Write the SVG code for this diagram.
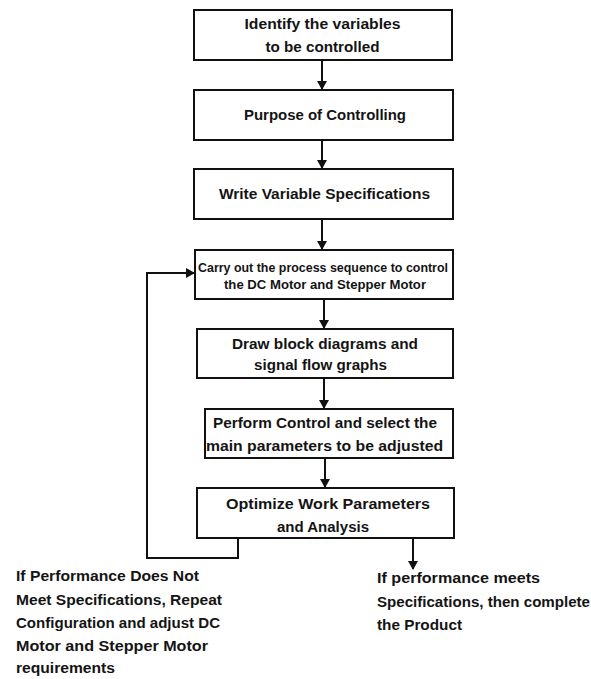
<svg xmlns="http://www.w3.org/2000/svg" width="591" height="679" viewBox="0 0 591 679">
<style>
.box{fill:#fff;stroke:#111;stroke-width:2}
.t{font-family:"Liberation Sans",Arial,sans-serif;font-weight:bold;font-size:14px;fill:#141414}
.c{text-anchor:middle}
.s{font-size:12.5px}
.ln{fill:none;stroke:#111;stroke-width:2}
</style>
<defs>
<marker id="ah" markerWidth="10" markerHeight="10" refX="8" refY="5" orient="auto" markerUnits="userSpaceOnUse">
<path d="M0,0 L9,5 L0,10 Z" fill="#111"/>
</marker>
</defs>
<rect width="591" height="679" fill="#fff"/>
<g id="n1"><rect class="box" x="194" y="10" width="258" height="50"/>
<text class="t c" x="322.5" y="29" textLength="156" lengthAdjust="spacingAndGlyphs">Identify the variables</text>
<text class="t c" x="322.5" y="52" textLength="114" lengthAdjust="spacingAndGlyphs">to be controlled</text></g>
<g id="n2"><rect class="box" x="194" y="90" width="259" height="50"/>
<text class="t c" x="325" y="120" textLength="162" lengthAdjust="spacingAndGlyphs">Purpose of Controlling</text></g>
<g id="n3"><rect class="box" x="194" y="169" width="259" height="50"/>
<text class="t c" x="324.5" y="199" textLength="211" lengthAdjust="spacingAndGlyphs">Write Variable Specifications</text></g>
<g id="n4"><rect class="box" x="195" y="250" width="258" height="49"/>
<text class="t s c" x="323" y="272" textLength="250" lengthAdjust="spacingAndGlyphs">Carry out the process sequence to control</text>
<text class="t s c" x="325" y="289" textLength="202" lengthAdjust="spacingAndGlyphs">the DC Motor and Stepper Motor</text></g>
<g id="n5"><rect class="box" x="197" y="329" width="256" height="49"/>
<text class="t c" x="325" y="349" textLength="186" lengthAdjust="spacingAndGlyphs">Draw block diagrams and</text>
<text class="t c" x="320.5" y="370" textLength="133" lengthAdjust="spacingAndGlyphs">signal flow graphs</text></g>
<g id="n6"><rect class="box" x="205" y="409" width="248" height="49"/>
<text class="t c" x="325" y="428" textLength="224" lengthAdjust="spacingAndGlyphs">Perform Control and select the</text>
<text class="t c" x="324.5" y="451" textLength="237" lengthAdjust="spacingAndGlyphs">main parameters to be adjusted</text></g>
<g id="n7"><rect class="box" x="197" y="488" width="257" height="50"/>
<text class="t c" x="328" y="509" textLength="204" lengthAdjust="spacingAndGlyphs">Optimize Work Parameters</text>
<text class="t c" x="323" y="532" textLength="92" lengthAdjust="spacingAndGlyphs">and Analysis</text></g>
<g id="n8">
<text class="t" x="16" y="581" textLength="183" lengthAdjust="spacingAndGlyphs">If Performance Does Not</text>
<text class="t" x="16" y="605" textLength="206" lengthAdjust="spacingAndGlyphs">Meet Specifications, Repeat</text>
<text class="t" x="16" y="628" textLength="204" lengthAdjust="spacingAndGlyphs">Configuration and adjust DC</text>
<text class="t" x="16" y="651" textLength="192" lengthAdjust="spacingAndGlyphs">Motor and Stepper Motor</text>
<text class="t" x="16" y="673" textLength="99" lengthAdjust="spacingAndGlyphs">requirements</text></g>
<g id="n9">
<text class="t" x="377" y="583" textLength="163" lengthAdjust="spacingAndGlyphs">If performance meets</text>
<text class="t" x="377" y="607" textLength="213" lengthAdjust="spacingAndGlyphs">Specifications, then complete</text>
<text class="t" x="377" y="630" textLength="85" lengthAdjust="spacingAndGlyphs">the Product</text></g>
<g id="connectors">
<path class="ln" d="M322,60 V89" marker-end="url(#ah)"/>
<path class="ln" d="M322,140 V168" marker-end="url(#ah)"/>
<path class="ln" d="M322,219 V249" marker-end="url(#ah)"/>
<path class="ln" d="M324,299 V328" marker-end="url(#ah)"/>
<path class="ln" d="M324,378 V408" marker-end="url(#ah)"/>
<path class="ln" d="M325,458 V487" marker-end="url(#ah)"/>
<path class="ln" d="M238,538 V558 H147 V273 H194" marker-end="url(#ah)"/>
<path class="ln" d="M413,538 V569" marker-end="url(#ah)"/>
</g>
</svg>
